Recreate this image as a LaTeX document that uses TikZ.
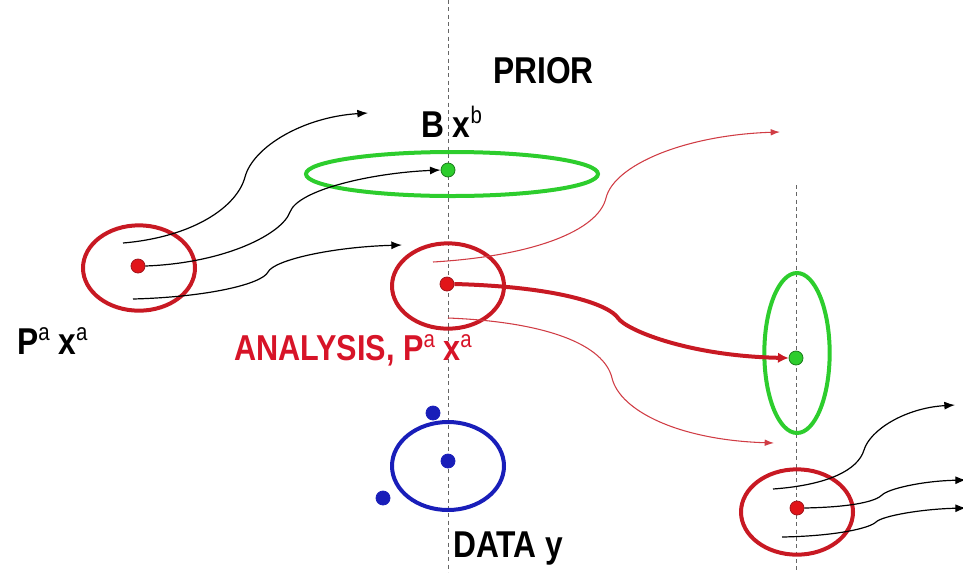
\documentclass[tikz,border=0pt]{standalone}
\usepackage{fontspec}
\newfontfamily\lab{Liberation Sans}[FakeStretch=0.85]
\usetikzlibrary{arrows.meta,shapes.geometric}
\definecolor{ellred}{RGB}{200,25,35}
\definecolor{txtred}{RGB}{215,20,40}
\definecolor{dotred}{RGB}{225,20,25}
\definecolor{grn}{RGB}{45,205,45}
\definecolor{blu}{RGB}{25,30,185}
\newcommand{\spx}[1]{\raisebox{0.36em}{\fontsize{18}{18}\mdseries\selectfont #1}}
\tikzset{
  guide/.style={draw=black!60, line width=0.6pt, dash pattern=on 3pt off 2.5pt},
  ell/.style={ellipse, line width=3pt, inner sep=0pt},
  dot/.style={circle, inner sep=0pt, minimum size=10.5pt, line width=0.6pt},
  blackarr/.style={draw=black, line width=0.9pt, -{Latex[length=8pt,width=6pt]}},
  redthin/.style={draw=ellred!85, line width=0.8pt, -{Latex[length=7pt,width=5pt]}},
  redthick/.style={draw=ellred, line width=3pt, -{Latex[length=8pt,width=8pt]}},
  lbl/.style={anchor=base west, inner sep=0pt, font=\lab\bfseries\fontsize{28}{30}\selectfont},
}
\begin{document}
\begin{tikzpicture}[x=0.75pt,y=-0.75pt]
\useasboundingbox (0,0) rectangle (963,572);
% guide lines
\coordinate (g1t) at (448,0);
\coordinate (g1b) at (448,572);
\coordinate (g2t) at (796,185);
\coordinate (g2b) at (796,572);
\draw[guide] (g1t) -- (g1b);
\draw[guide] (g2t) -- (g2b);

% ellipses
\node[ell, draw=grn, minimum width=219pt, minimum height=33pt] (prior) at (452,174) {};
\node[ell, draw=ellred, minimum width=84pt, minimum height=64pt] (ea0) at (139,268) {};
\node[ell, draw=ellred, minimum width=84pt, minimum height=64pt] (ea1) at (448,286) {};
\node[ell, draw=blu, minimum width=84pt, minimum height=66pt] (data) at (448,466) {};
\node[ell, draw=grn, minimum width=49pt, minimum height=120pt] (prior2) at (797,353) {};
\node[ell, draw=ellred, minimum width=84pt, minimum height=64pt] (ea2) at (797,512) {};

% dots
\node[dot, fill=dotred, draw=ellred!80!black] (xa0) at (138,266) {};
\node[dot, fill=grn, draw=grn!60!black] (xb) at (448,170) {};
\node[dot, fill=dotred, draw=ellred!80!black] (xa1) at (447,284) {};
\node[dot, fill=blu, draw=blu] (y0) at (448,461) {};
\node[dot, fill=blu, draw=blu] (y1) at (433,413) {};
\node[dot, fill=blu, draw=blu] (y2) at (383,498) {};
\node[dot, fill=grn, draw=grn!60!black] (xb2) at (796,358) {};
\node[dot, fill=dotred, draw=ellred!80!black] (xa2) at (797,508) {};

% black ensemble arrows from left
\coordinate (s1) at (123,243); \coordinate (m1) at (245,177); \coordinate (e1) at (368,113);
\draw[blackarr] (s1) .. controls +(70,-6) and +(-8,30) .. (m1) .. controls +(8,-30) and +(-65,4) .. (e1);
\coordinate (m2) at (290,212);
\draw[blackarr] (xa0.east) .. controls +(80,-3) and +(-8,22) .. (m2) .. controls +(8,-22) and +(-70,3) .. (xb.west);
\coordinate (s3) at (133,299); \coordinate (m3) at (268,272); \coordinate (e3) at (402,245);
\draw[blackarr] (s3) .. controls +(75,-2) and +(-6,12) .. (m3) .. controls +(6,-12) and +(-70,2) .. (e3);

% red forecast arrows from analysis
\coordinate (s4) at (433,262); \coordinate (m4) at (606,198); \coordinate (e4) at (780,132);
\draw[redthin] (s4) .. controls +(100,-6) and +(-8,33) .. (m4) .. controls +(8,-33) and +(-95,3) .. (e4);
\coordinate (s5) at (448,318); \coordinate (m5) at (612,378); \coordinate (e5) at (774,443);
\draw[redthin] (s5) .. controls +(100,4) and +(-8,-33) .. (m5) .. controls +(8,33) and +(-95,-3) .. (e5);
\coordinate (m6) at (618,318);
\draw[redthick] (xa1.east) .. controls +(110,3) and +(-8,-12) .. (m6) .. controls +(8,12) and +(-100,-2) .. (xb2.west);

% black ensemble arrows from right analysis
\coordinate (s7) at (773,489); \coordinate (m7) at (864,450); \coordinate (e7) at (955,405);
\draw[blackarr] (s7) .. controls +(55,-4) and +(-6,20) .. (m7) .. controls +(6,-20) and +(-50,3) .. (e7);
\coordinate (m8) at (882,495); \coordinate (e8) at (966,480);
\draw[blackarr] (xa2.east) .. controls +(50,-1) and +(-6,6) .. (m8) .. controls +(6,-6) and +(-45,1) .. (e8);
\coordinate (s9) at (782,537); \coordinate (m9) at (876,522); \coordinate (e9) at (966,508);
\draw[blackarr] (s9) .. controls +(55,-1) and +(-6,6) .. (m9) .. controls +(6,-6) and +(-45,1) .. (e9);

% labels
\node[lbl] (tprior) at (493,83) {PRIOR};
\node[lbl] (tbxb) at (421,137) {B x\spx{b}};
\node[lbl] (tpaxa) at (17,354) {P\spx{a} x\spx{a}};
\node[lbl, text=txtred, font=\lab\bfseries\fontsize{27}{29}\selectfont] (tana) at (234,360) {ANALYSIS, P\spx{a} x\spx{a}};
\node[lbl, font=\lab\bfseries\fontsize{28}{30}\selectfont] (tdata) at (453,557) {DATA y};
\end{tikzpicture}
\end{document}
